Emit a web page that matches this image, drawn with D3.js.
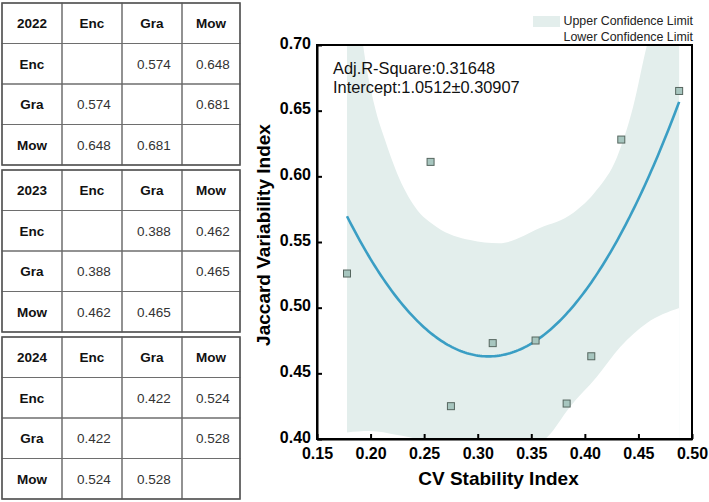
<!DOCTYPE html>
<html>

<head>
    <meta charset="utf-8">
    <title>Jaccard vs CV stability</title>
    <script type="text/javascript" src="https://d3js.org/d3.v7.min.js"></script>
    <style>
        body {
            margin: 0;
            background: #fff;
        }
        svg {
            display: block;
            font-family: "Liberation Sans", Arial, sans-serif;
        }
    </style>
</head>

<body>
</body>

<script type="text/javascript">
    var w = 709;
    var h = 502;

    // similarity tables (one per year)
    var years = ["2022", "2023", "2024"];
    var groups = ["Enc", "Gra", "Mow"];
    var matrix2022 = [[null, "0.574", "0.648"], ["0.574", null, "0.681"], ["0.648", "0.681", null]];
    var matrix2023 = [[null, "0.388", "0.462"], ["0.388", null, "0.465"], ["0.462", "0.465", null]];
    var matrix2024 = [[null, "0.422", "0.524"], ["0.422", null, "0.528"], ["0.524", "0.528", null]];
    var matrices = [matrix2022, matrix2023, matrix2024];

    // scatter points
    var cvIndex = [0.178, 0.256, 0.275, 0.314, 0.354, 0.383, 0.406, 0.434, 0.488];
    var jaccardIndex = [0.526, 0.611, 0.425, 0.473, 0.475, 0.427, 0.463, 0.628, 0.665];

    // quadratic fit: intercept, linear, quadratic
    var fitCoef = [1.0512, -3.795, 6.12];
    var fitRange = [0.178, 0.488];

    // confidence limits
    var upperX = [0.178, 0.186, 0.193, 0.204, 0.2135, 0.2247, 0.2415, 0.262, 0.293, 0.320, 0.358, 0.389, 0.411, 0.430, 0.445, 0.458, 0.472, 0.488];
    var upperY = [0.820, 0.750, 0.700, 0.6527, 0.6276, 0.6024, 0.5766, 0.5613, 0.5515, 0.549, 0.5606, 0.572, 0.5895, 0.6146, 0.6527, 0.700, 0.740, 0.800];
    var lowerX = [0.178, 0.199, 0.225, 0.243, 0.270, 0.310, 0.345, 0.365, 0.386, 0.411, 0.433, 0.458, 0.488];
    var lowerY = [0.405, 0.406, 0.403, 0.400, 0.392, 0.386, 0.392, 0.4015, 0.4244, 0.4472, 0.470, 0.4883, 0.4997];

    var xTicks = [0.15, 0.20, 0.25, 0.30, 0.35, 0.40, 0.45, 0.50];
    var yTicks = [0.40, 0.45, 0.50, 0.55, 0.60, 0.65, 0.70];

    var svg = d3.select("body").append("svg").attr("width", w).attr("height", h);

    // ---------- tables ----------
    var tableTops = [3, 170, 337];
    var colEdges = [2, 62, 122, 182, 240];
    var rowH = 40.5;

    years.forEach(function(year, t) {
        var g = svg.append("g").attr("transform", "translate(0," + tableTops[t] + ")");
        var rows = [[year].concat(groups)];
        groups.forEach(function(gr, i) {
            rows.push([gr].concat(matrices[t][i]));
        });
        rows.forEach(function(row, r) {
            row.forEach(function(cell, c) {
                var x0 = colEdges[c], x1 = colEdges[c + 1];
                g.append("rect")
                    .attr("x", x0).attr("y", r * rowH)
                    .attr("width", x1 - x0).attr("height", rowH)
                    .attr("fill", "none").attr("stroke", "#6e6e6e").attr("stroke-width", 1);
                if (cell !== null) {
                    var bold = r === 0 || c === 0;
                    g.append("text")
                        .attr("x", (x0 + x1) / 2 + (bold ? 0 : 2))
                        .attr("y", r * rowH + rowH / 2 + 5)
                        .attr("text-anchor", "middle")
                        .attr("font-size", bold ? "13.5px" : "13.5px")
                        .attr("font-weight", bold ? "bold" : "normal")
                        .attr("fill", bold ? "#111" : "#333")
                        .text(cell);
                }
            });
        });
        g.append("rect")
            .attr("x", colEdges[0]).attr("y", 0)
            .attr("width", colEdges[4] - colEdges[0]).attr("height", rowH * 4)
            .attr("fill", "none").attr("stroke", "#555").attr("stroke-width", 1.5);
    });

    // ---------- scatter / fit ----------
    var plot = { left: 317, right: 692, top: 45, bottom: 439 };

    var xScale = d3.scaleLinear().domain([0.15, 0.50]).range([plot.left, plot.right]);
    var yScale = d3.scaleLinear().domain([0.40, 0.70]).range([plot.bottom, plot.top]);

    svg.append("clipPath").attr("id", "plotClip")
        .append("rect")
        .attr("x", plot.left).attr("y", plot.top)
        .attr("width", plot.right - plot.left).attr("height", plot.bottom - plot.top);

    var inner = svg.append("g").attr("clip-path", "url(#plotClip)");

    // confidence band: fill under the upper limit, then cut away below the lower limit
    var underArea = d3.area().curve(d3.curveMonotoneX)
        .x(function(d) { return xScale(d[0]); })
        .y0(yScale(0.30))
        .y1(function(d) { return yScale(d[1]); });

    inner.append("path")
        .attr("d", underArea(upperX.map(function(x, i) { return [x, upperY[i]]; })))
        .attr("fill", "#e3eeec");

    inner.append("path")
        .attr("d", underArea(lowerX.map(function(x, i) { return [x, lowerY[i]]; })))
        .attr("fill", "#fff");

    // fitted curve
    var fitX = d3.range(fitRange[0], fitRange[1] + 0.0005, 0.002);
    var fitLine = d3.line()
        .x(function(d) { return xScale(d); })
        .y(function(d) { return yScale(fitCoef[0] + fitCoef[1] * d + fitCoef[2] * d * d); });
    inner.append("path")
        .attr("d", fitLine(fitX))
        .attr("fill", "none")
        .attr("stroke", "#3a9ec4")
        .attr("stroke-width", 2.6);

    // points
    var sz = 7;
    inner.selectAll("rect.pt")
        .data(cvIndex)
        .enter()
        .append("rect")
        .attr("class", "pt")
        .attr("x", function(d) { return xScale(d) - sz / 2; })
        .attr("y", function(d, i) { return yScale(jaccardIndex[i]) - sz / 2; })
        .attr("width", sz)
        .attr("height", sz)
        .attr("fill", "#a7c6bf")
        .attr("stroke", "#56665f")
        .attr("stroke-width", 1);

    // frame
    svg.append("rect")
        .attr("x", plot.left).attr("y", plot.top)
        .attr("width", plot.right - plot.left).attr("height", plot.bottom - plot.top)
        .attr("fill", "none").attr("stroke", "#000").attr("stroke-width", 2);

    // axes with inward ticks
    var xAxis = svg.append("g")
        .attr("transform", "translate(0," + plot.bottom + ")")
        .call(d3.axisBottom(xScale).tickValues(xTicks).tickFormat(d3.format(".2f"))
            .tickSizeInner(-5).tickSizeOuter(0).tickPadding(8));
    var yAxis = svg.append("g")
        .attr("transform", "translate(" + plot.left + ",0)")
        .call(d3.axisLeft(yScale).tickValues(yTicks).tickFormat(d3.format(".2f"))
            .tickSizeInner(-5).tickSizeOuter(0).tickPadding(6));

    [xAxis, yAxis].forEach(function(ax) {
        ax.select(".domain").attr("stroke", "#000").attr("stroke-width", 2);
        ax.selectAll(".tick line").attr("stroke", "#000").attr("stroke-width", 2);
        ax.selectAll(".tick text")
            .attr("fill", "#000")
            .attr("font-size", "16px")
            .attr("font-weight", "bold")
            .attr("font-family", "Liberation Sans, Arial, sans-serif");
    });
    xAxis.selectAll(".tick text").attr("dy", "0.75em");
    yAxis.selectAll(".tick text").attr("dy", "0.2em");

    // axis titles
    svg.append("text")
        .attr("x", (plot.left + plot.right) / 2 - 6)
        .attr("y", 485)
        .attr("text-anchor", "middle")
        .attr("font-size", "19px")
        .attr("font-weight", "bold")
        .text("CV Stability Index");

    svg.append("text")
        .attr("transform", "translate(270," + ((plot.top + plot.bottom) / 2 - 7) + ") rotate(-90)")
        .attr("text-anchor", "middle")
        .attr("font-size", "19px")
        .attr("font-weight", "bold")
        .text("Jaccard Variability Index");

    // fit statistics
    svg.append("text").attr("x", 333).attr("y", 74)
        .attr("font-size", "16.4px").attr("fill", "#111")
        .text("Adj.R-Square:0.31648");
    svg.append("text").attr("x", 333).attr("y", 93)
        .attr("font-size", "16.4px").attr("fill", "#111")
        .text("Intercept:1.0512\u00b10.30907");

    // legend
    svg.append("rect")
        .attr("x", 533).attr("y", 16).attr("width", 27).attr("height", 11)
        .attr("fill", "#e3eeec");
    svg.append("text").attr("x", 693).attr("y", 25)
        .attr("text-anchor", "end").attr("font-size", "12.4px").attr("fill", "#222")
        .text("Upper Confidence Limit");
    svg.append("text").attr("x", 693).attr("y", 41)
        .attr("text-anchor", "end").attr("font-size", "12.4px").attr("fill", "#222")
        .text("Lower Confidence Limit");
</script>
</html>
